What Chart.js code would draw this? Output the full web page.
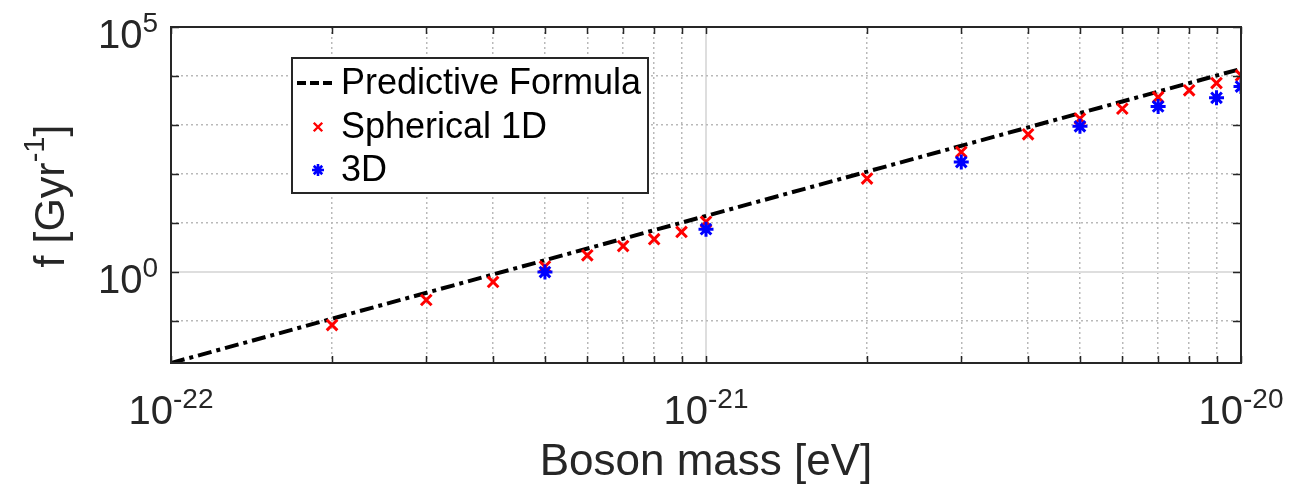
<!DOCTYPE html>
<html>
<head>
<meta charset="utf-8">
<script src="https://cdn.jsdelivr.net/npm/chart.js@4.4.1/dist/chart.umd.min.js"></script>
<style>
html,body{margin:0;padding:0;background:#fff;}
#wrap{position:relative;width:1303px;height:489px;}
canvas{display:block;}
</style>
</head>
<body>
<div id="wrap"><canvas id="c" width="1303" height="489"></canvas></div>
<script>
// ---- data ----
const massPred = [1e-22, 1e-21, 1e-20];
const freqPred = [0.014, 14, 14000];

const mass1D = [2e-22, 3e-22, 4e-22, 5e-22, 6e-22, 7e-22, 8e-22, 9e-22, 1e-21,
                2e-21, 3e-21, 4e-21, 5e-21, 6e-21, 7e-21, 8e-21, 9e-21, 1e-20];
const freq1D = [0.083, 0.27, 0.63, 1.3, 2.2, 3.4, 4.7, 6.6, 10.6,
                81, 282, 646, 1350, 2150, 3700, 5100, 7200, 10300];

const mass3D = [5e-22, 1e-21, 3e-21, 5e-21, 7e-21, 9e-21, 1e-20];
const freq3D = [1.0, 7.5, 176, 940, 2400, 3600, 6100];

const seriesNames = ['Predictive Formula', 'Spherical 1D', '3D'];

const xTickValues = [1e-22, 2e-22, 3e-22, 4e-22, 5e-22, 6e-22, 7e-22, 8e-22, 9e-22,
                     1e-21, 2e-21, 3e-21, 4e-21, 5e-21, 6e-21, 7e-21, 8e-21, 9e-21, 1e-20];
const xMajorValues = [1e-22, 1e-21, 1e-20];
const xMajorExps = ['-22', '-21', '-20'];
const yTickValues = [0.1, 1, 10, 100, 1000, 10000, 100000];
const yMajorValues = [1, 100000];
const yMajorExps = ['0', '5'];

const xTitle = 'Boson mass [eV]';
const yTitleParts = ['f [Gyr', '-1', ']'];

// ---- styling ----
const FONT = '"Liberation Sans", Arial, Helvetica, sans-serif';
const AXIS_COLOR = '#262626';
const MAJOR_GRID = '#dedede';
const MINOR_GRID = '#b9b9b9';
const DASHDOT = [14, 5, 4, 5];

function isMajor(v, majors) {
  return majors.some(m => Math.abs(v / m - 1) < 1e-6);
}

function supText(ctx, base, exp, x, y, align, baseSize, expSize, rise) {
  ctx.font = baseSize + 'px ' + FONT;
  const wb = ctx.measureText(base).width;
  ctx.font = expSize + 'px ' + FONT;
  const we = ctx.measureText(exp).width;
  const total = wb + we;
  let x0 = align === 'center' ? x - total / 2 : (align === 'right' ? x - total : x);
  ctx.textAlign = 'left';
  ctx.textBaseline = 'alphabetic';
  ctx.font = baseSize + 'px ' + FONT;
  ctx.fillText(base, x0, y);
  ctx.font = expSize + 'px ' + FONT;
  ctx.fillText(exp, x0 + wb, y - rise);
}

const decorPlugin = {
  id: 'decor',
  afterDraw(chart) {
    const ctx = chart.ctx;
    const ca = chart.chartArea;
    const xs = chart.scales.x, ys = chart.scales.y;
    ctx.save();
    // inner tick marks
    ctx.strokeStyle = AXIS_COLOR;
    ctx.lineWidth = 1.5;
    ctx.setLineDash([]);
    ctx.beginPath();
    xs.ticks.forEach(t => {
      const px = Math.round(xs.getPixelForValue(t.value)) + 0.5;
      ctx.moveTo(px, ca.bottom); ctx.lineTo(px, ca.bottom - 7);
      ctx.moveTo(px, ca.top); ctx.lineTo(px, ca.top + 7);
    });
    ys.ticks.forEach(t => {
      const py = Math.round(ys.getPixelForValue(t.value)) + 0.5;
      ctx.moveTo(ca.left, py); ctx.lineTo(ca.left + 8, py);
      ctx.moveTo(ca.right, py); ctx.lineTo(ca.right - 8, py);
    });
    ctx.stroke();
    // box
    ctx.lineWidth = 2;
    ctx.strokeRect(ca.left, ca.top, ca.right - ca.left, ca.bottom - ca.top);

    // tick labels
    ctx.fillStyle = AXIS_COLOR;
    xMajorValues.forEach((v, i) => {
      const px = xs.getPixelForValue(v);
      supText(ctx, '10', xMajorExps[i], px, 424, 'center', 40, 28, 16);
    });
    yMajorValues.forEach((v, i) => {
      const py = ys.getPixelForValue(v);
      supText(ctx, '10', yMajorExps[i], 158, py + 21, 'right', 40, 28, 16);
    });

    // y title
    ctx.save();
    ctx.translate(49, (ca.top + ca.bottom) / 2 + 1);
    ctx.rotate(-Math.PI / 2);
    ctx.font = '43px ' + FONT;
    const w1 = ctx.measureText(yTitleParts[0]).width;
    const w3 = ctx.measureText(yTitleParts[2]).width;
    ctx.font = '29px ' + FONT;
    const w2 = ctx.measureText(yTitleParts[1]).width;
    let x0 = -(w1 + w2 + w3) / 2;
    ctx.textAlign = 'left';
    ctx.textBaseline = 'alphabetic';
    const base = 15;
    ctx.font = '43px ' + FONT; ctx.fillText(yTitleParts[0], x0, base);
    ctx.font = '29px ' + FONT; ctx.fillText(yTitleParts[1], x0 + w1, base - 20);
    ctx.font = '43px ' + FONT; ctx.fillText(yTitleParts[2], x0 + w1 + w2, base);
    ctx.restore();

    // legend
    const lx = 292, ly = 58, lw = 356, lh = 135;
    ctx.fillStyle = '#ffffff';
    ctx.fillRect(lx, ly, lw, lh);
    ctx.strokeStyle = AXIS_COLOR;
    ctx.lineWidth = 2;
    ctx.strokeRect(lx, ly, lw, lh);
    const rows = [83, 127, 170];
    const ds = chart.data.datasets;
    // line sample
    ctx.strokeStyle = ds[0].borderColor;
    ctx.lineWidth = ds[0].borderWidth;
    ctx.setLineDash([9, 4, 9, 4]);
    ctx.beginPath(); ctx.moveTo(297, rows[0]); ctx.lineTo(336, rows[0]); ctx.stroke();
    ctx.setLineDash([]);
    // markers
    ctx.strokeStyle = ds[1].borderColor; ctx.fillStyle = ds[1].borderColor;
    ctx.lineWidth = 2.4;
    Chart.helpers.drawPoint(ctx, {pointStyle: 'crossRot', radius: 6, rotation: 0, borderWidth: 2.4}, 318, rows[1]);
    ctx.strokeStyle = ds[2].borderColor; ctx.fillStyle = ds[2].borderColor;
    ctx.lineWidth = 2.6;
    Chart.helpers.drawPoint(ctx, {pointStyle: 'star', radius: 6, rotation: 0, borderWidth: 2.6}, 318, rows[2]);
    // text
    ctx.fillStyle = '#000000';
    ctx.font = '36px ' + FONT;
    ctx.textAlign = 'left';
    ctx.textBaseline = 'middle';
    ds.forEach((d, i) => ctx.fillText(d.label, 341, rows[i] + 1));
    ctx.restore();
  }
};

const toXY = (xs, ys) => xs.map((x, i) => ({x: x, y: ys[i]}));

new Chart(document.getElementById('c'), {
  type: 'scatter',
  data: {
    datasets: [
      {
        label: seriesNames[0],
        data: toXY(massPred, freqPred),
        showLine: true,
        borderColor: '#000000',
        backgroundColor: '#000000',
        borderWidth: 4,
        borderDash: DASHDOT,
        pointRadius: 0,
        order: 3
      },
      {
        label: seriesNames[1],
        data: toXY(mass1D, freq1D),
        showLine: false,
        pointStyle: 'crossRot',
        pointRadius: 7.5,
        pointBorderWidth: 3,
        borderColor: '#ff0000',
        backgroundColor: '#ff0000',
        order: 2
      },
      {
        label: seriesNames[2],
        data: toXY(mass3D, freq3D),
        showLine: false,
        pointStyle: 'star',
        pointRadius: 7.5,
        pointBorderWidth: 3,
        borderColor: '#0000ff',
        backgroundColor: '#0000ff',
        order: 1
      }
    ]
  },
  options: {
    responsive: false,
    animation: false,
    devicePixelRatio: 1,
    layout: {padding: {left: 0, right: 62, top: 27, bottom: 0}},
    plugins: {legend: {display: false}, tooltip: {enabled: false}},
    scales: {
      x: {
        type: 'logarithmic',
        min: 1e-22,
        max: 1e-20,
        afterBuildTicks: s => { s.ticks = xTickValues.map(v => ({value: v, major: isMajor(v, xMajorValues)})); },
        afterFit: s => { s.height = 126; },
        ticks: {display: false},
        grid: {
          drawTicks: false,
          lineWidth: c => isMajor(c.tick.value, xMajorValues) ? 2 : 1.5,
          color: c => isMajor(c.tick.value, xMajorValues) ? MAJOR_GRID : MINOR_GRID
        },
        border: {display: false, dash: c => (c.tick && isMajor(c.tick.value, xMajorValues)) ? [] : [2, 3]},
        title: {
          display: true,
          text: xTitle,
          color: AXIS_COLOR,
          font: {size: 44, family: FONT},
          padding: {top: 0, bottom: 0}
        }
      },
      y: {
        type: 'logarithmic',
        min: 0.014,
        max: 100000,
        afterBuildTicks: s => { s.ticks = yTickValues.map(v => ({value: v, major: isMajor(v, yMajorValues)})); },
        afterFit: s => { s.width = 171; },
        ticks: {display: false},
        grid: {
          drawTicks: false,
          lineWidth: c => isMajor(c.tick.value, yMajorValues) ? 2 : 1.5,
          color: c => isMajor(c.tick.value, yMajorValues) ? MAJOR_GRID : MINOR_GRID
        },
        border: {display: false, dash: c => (c.tick && isMajor(c.tick.value, yMajorValues)) ? [] : [2, 3]}
      }
    }
  },
  plugins: [decorPlugin]
});
</script>
</body>
</html>
